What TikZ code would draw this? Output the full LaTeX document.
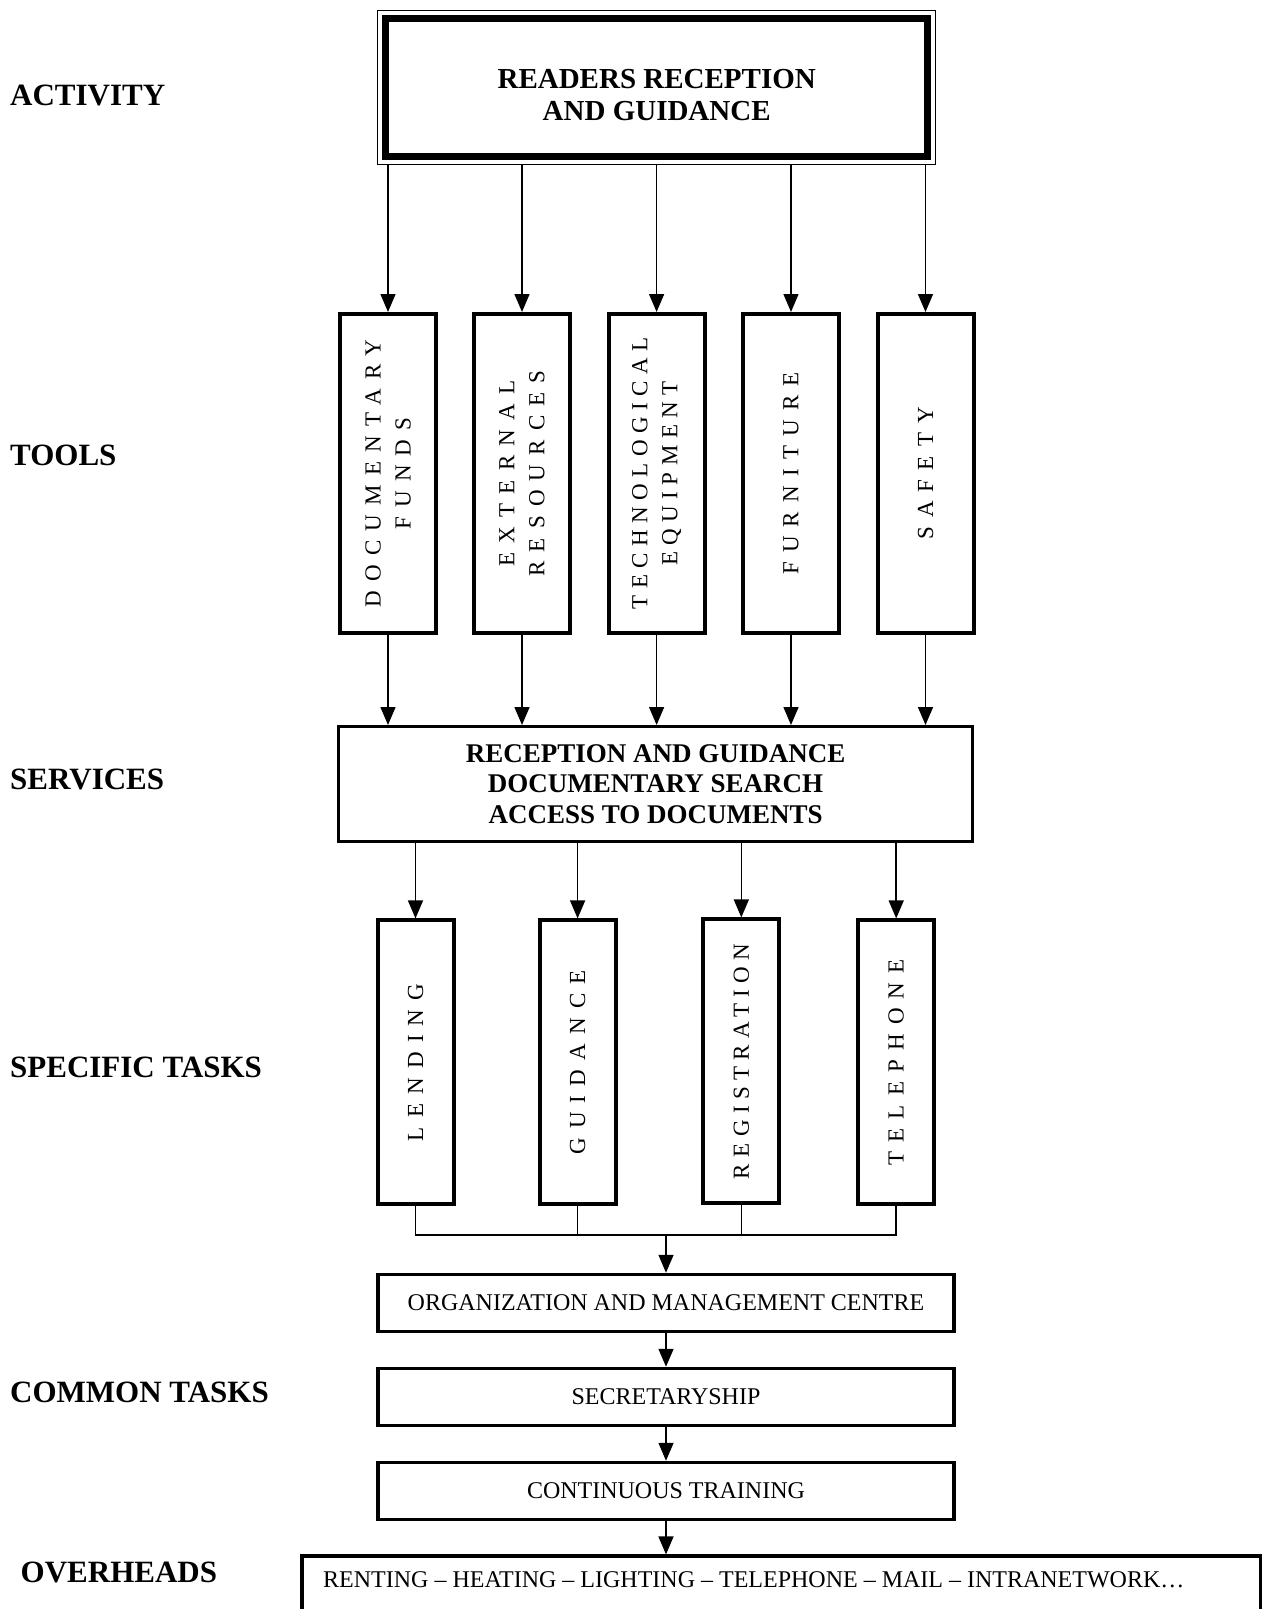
\documentclass[tikz,border=0pt]{standalone}
\usepackage{fontspec}
\setmainfont{Liberation Serif}
\newfontfamily\spaced[LetterSpace=40]{Liberation Serif}
\newfontfamily\spacedtight[LetterSpace=28]{Liberation Serif}
\usetikzlibrary{arrows.meta}
\tikzset{
  flow/.style={-{Triangle[length=18pt,width=15pt]},line width=1.5pt},
  joinline/.style={line width=1.5pt},
  rowlabel/.style={anchor=west,inner sep=0pt,font=\fontsize{31}{36}\selectfont\bfseries},
  toolbox/.style={draw,line width=4pt,minimum width=96pt,minimum height=319pt,inner sep=0pt},
  taskbox/.style={draw,line width=4pt,minimum width=76pt,minimum height=284pt,inner sep=0pt},
  upword/.style={rotate=90,align=center,inner sep=0pt,font=\spaced\fontsize{23}{30}\selectfont},
  upwordtight/.style={upword,font=\spacedtight\fontsize{23}{30}\selectfont},
  commonbox/.style={draw,line width=3.5pt,minimum width=576pt,minimum height=57pt,inner sep=0pt,
    font=\fontsize{24}{28}\selectfont},
}

\begin{document}
\begin{tikzpicture}[x=1pt,y=-1pt]
    \useasboundingbox (0,0) rectangle (1261,1609);

    % level names
    \node[rowlabel] (lactivity) at (10,95.4) {ACTIVITY};
    \node[rowlabel] (ltools) at (10,455.5) {TOOLS};
    \node[rowlabel] (lservices) at (10,779.8) {SERVICES};
    \node[rowlabel] (lspecific) at (10,1067) {SPECIFIC TASKS};
    \node[rowlabel] (lcommon) at (10,1392) {COMMON TASKS};
    \node[rowlabel] (loverheads) at (20.5,1572) {OVERHEADS};

    % activity
    \node[draw,line width=1.5pt,minimum width=558pt,minimum height=154pt] (frame) at (656.7,87.3) {};
    \node[draw,line width=6.5pt,minimum width=542pt,minimum height=138pt] (activity) at (656.7,87.3) {};
    \node[align=center,inner sep=0pt,font=\fontsize{29}{32}\selectfont\bfseries] (activitytext) at (656.7,95)
      {READERS RECEPTION\\AND GUIDANCE};

    % tools
    \node[toolbox] (t1) at (388,473.5) {};
    \node[upword] (t1text) at (t1) {DOCUMENTARY\\FUNDS};
    \node[toolbox] (t2) at (522,473.5) {};
    \node[upword] (t2text) at (t2) {EXTERNAL\\RESOURCES};
    \node[toolbox] (t3) at (656.6,473.5) {};
    \node[upwordtight] (t3text) at (t3) {TECHNOLOGICAL\\EQUIPMENT};
    \node[toolbox] (t4) at (791,473.5) {};
    \node[upword] (t4text) at (t4) {FURNITURE};
    \node[toolbox] (t5) at (925.5,473.5) {};
    \node[upword] (t5text) at (t5) {SAFETY};

    \draw[flow] (frame.south -| t1.north) -- (t1.north);
    \draw[flow] (frame.south -| t2.north) -- (t2.north);
    \draw[flow] (frame.south -| t3.north) -- (t3.north);
    \draw[flow] (frame.south -| t4.north) -- (t4.north);
    \draw[flow] (frame.south -| t5.north) -- (t5.north);

    % services
    \node[draw,line width=3pt,minimum width=634pt,minimum height=115pt,align=center,
      font=\fontsize{27}{30.3}\selectfont\bfseries] (services) at (655.6,784)
      {RECEPTION AND GUIDANCE\\DOCUMENTARY SEARCH\\ACCESS TO DOCUMENTS};

    \draw[flow] (t1.south) -- (t1.south |- services.north);
    \draw[flow] (t2.south) -- (t2.south |- services.north);
    \draw[flow] (t3.south) -- (t3.south |- services.north);
    \draw[flow] (t4.south) -- (t4.south |- services.north);
    \draw[flow] (t5.south) -- (t5.south |- services.north);

    % specific tasks
    \node[taskbox] (k1) at (415.5,1062.4) {};
    \node[upword] (k1text) at (k1) {LENDING};
    \node[taskbox] (k2) at (577.6,1062.4) {};
    \node[upword] (k2text) at (k2) {GUIDANCE};
    \node[taskbox] (k3) at (741.3,1061.4) {};
    \node[upwordtight] (k3text) at (k3) {REGISTRATION};
    \node[taskbox] (k4) at (896.2,1062.4) {};
    \node[upword] (k4text) at (k4) {TELEPHONE};

    \draw[flow] (services.south -| k1.north) -- (k1.north);
    \draw[flow] (services.south -| k2.north) -- (k2.north);
    \draw[flow] (services.south -| k3.north) -- (k3.north);
    \draw[flow] (services.south -| k4.north) -- (k4.north);

    % common tasks
    \coordinate (join) at (666,1235);
    \node[commonbox] (organization) at (666,1303) {ORGANIZATION AND MANAGEMENT CENTRE};
    \node[commonbox] (secretary) at (666,1397) {SECRETARYSHIP};
    \node[commonbox] (training) at (666,1491) {CONTINUOUS TRAINING};

    \draw[joinline] (k1.south) |- (k4.south |- join) -- (k4.south);
    \draw[joinline] (k2.south) -- (k2.south |- join);
    \draw[joinline] (k3.south) -- (k3.south |- join);
    \draw[flow] (join) -- (organization.north);
    \draw[flow] (organization.south) -- (secretary.north);
    \draw[flow] (secretary.south) -- (training.north);

    % overheads
    \node[draw,line width=3.5pt,anchor=north west,minimum width=959pt,minimum height=100pt] (overheads) at (300,1554.4) {};
    \node[anchor=west,inner sep=0pt,font=\fontsize{24}{28}\selectfont] (overheadstext) at (323,1580)
      {RENTING – HEATING – LIGHTING – TELEPHONE – MAIL – INTRANETWORK…};
    \draw[flow] (training.south) -- (training.south |- overheads.north);
\end{tikzpicture}
\end{document}
